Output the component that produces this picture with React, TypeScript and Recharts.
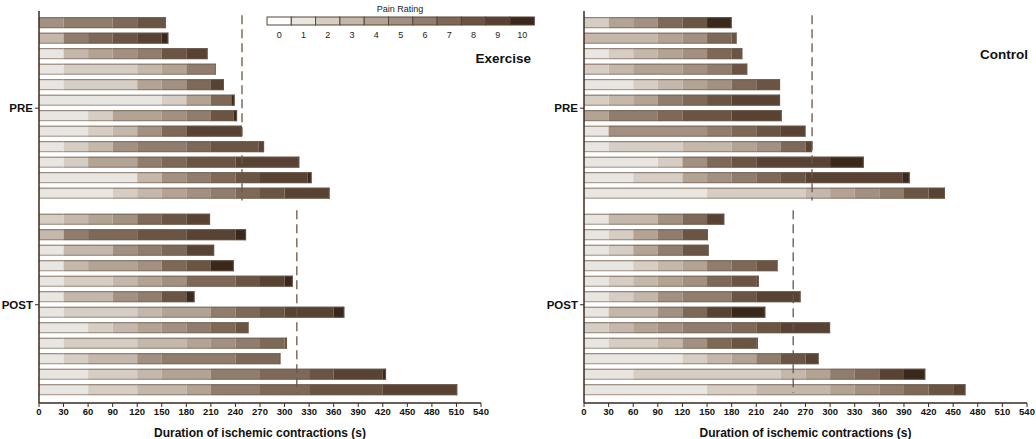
import React from "react";
import { BarChart, Bar, XAxis, YAxis, Cell, ReferenceLine } from "recharts";

// each subject: list of [seconds, pain rating] pieces, in order
type Piece = [number, number];

const exercisePre: Piece[][] = [
  [[30, 5], [60, 6], [30, 7], [35, 8]],
  [[30, 3], [30, 6], [30, 7], [30, 8], [30, 9], [8, 10]],
  [[30, 1], [30, 3], [30, 4], [30, 5], [30, 6], [30, 8], [26, 9]],
  [[30, 1], [90, 2], [30, 3], [30, 4], [36, 6]],
  [[30, 1], [90, 2], [30, 4], [30, 5], [30, 7], [16, 9]],
  [[150, 1], [30, 2], [30, 4], [25, 7], [4, 10]],
  [[60, 1], [30, 2], [60, 4], [30, 5], [30, 6], [28, 8], [4, 10]],
  [[60, 1], [30, 2], [30, 3], [30, 5], [30, 7], [68, 9]],
  [[30, 1], [30, 2], [30, 3], [30, 5], [60, 6], [30, 7], [58, 8], [7, 9]],
  [[30, 1], [30, 2], [60, 4], [30, 6], [30, 7], [60, 8], [78, 9]],
  [[120, 1], [30, 3], [30, 5], [30, 6], [30, 7], [30, 8], [58, 9], [5, 10]],
  [[90, 1], [30, 2], [30, 3], [30, 4], [30, 5], [30, 6], [30, 7], [30, 8], [55, 9]],
];

const exercisePost: Piece[][] = [
  [[30, 2], [30, 3], [30, 4], [30, 5], [30, 7], [30, 8], [29, 9]],
  [[30, 3], [30, 6], [60, 7], [60, 8], [60, 9], [13, 10]],
  [[30, 1], [60, 3], [30, 5], [30, 6], [30, 7], [34, 9]],
  [[30, 1], [30, 3], [60, 4], [30, 5], [30, 7], [30, 8], [28, 10]],
  [[30, 1], [60, 2], [30, 3], [30, 4], [30, 5], [60, 7], [30, 8], [30, 9], [10, 10]],
  [[30, 1], [60, 3], [30, 5], [30, 6], [30, 8], [10, 10]],
  [[30, 1], [90, 2], [30, 3], [60, 4], [30, 6], [30, 7], [30, 8], [60, 9], [13, 10]],
  [[60, 1], [30, 2], [30, 3], [30, 4], [30, 5], [30, 6], [30, 7], [16, 8]],
  [[30, 1], [90, 2], [60, 3], [30, 4], [30, 5], [30, 6], [30, 7], [3, 8]],
  [[30, 1], [30, 2], [60, 3], [30, 5], [90, 6], [55, 7]],
  [[60, 1], [60, 2], [30, 3], [60, 4], [60, 6], [60, 7], [30, 8], [60, 9], [4, 10]],
  [[60, 1], [60, 2], [60, 3], [30, 4], [60, 6], [60, 7], [90, 8], [91, 9]],
];

const controlPre: Piece[][] = [
  [[30, 2], [30, 4], [30, 5], [30, 7], [30, 8], [30, 10]],
  [[90, 3], [30, 4], [30, 5], [30, 7], [6, 8]],
  [[30, 1], [30, 2], [30, 3], [30, 4], [30, 5], [30, 7], [13, 8]],
  [[30, 2], [30, 3], [60, 4], [30, 5], [30, 6], [19, 8]],
  [[60, 1], [30, 2], [30, 3], [30, 4], [30, 5], [30, 7], [29, 8]],
  [[30, 2], [30, 3], [30, 4], [30, 6], [30, 7], [30, 8], [59, 9]],
  [[30, 4], [60, 6], [30, 7], [60, 8], [61, 9]],
  [[30, 1], [120, 5], [30, 6], [30, 7], [30, 8], [30, 9]],
  [[30, 1], [90, 2], [60, 3], [30, 4], [30, 5], [30, 7], [8, 9]],
  [[90, 1], [30, 2], [30, 5], [30, 7], [30, 8], [90, 9], [41, 10]],
  [[60, 1], [60, 2], [30, 4], [30, 5], [30, 6], [30, 7], [30, 8], [118, 9], [9, 10]],
  [[150, 1], [120, 2], [30, 3], [30, 4], [30, 5], [30, 6], [30, 8], [20, 9]],
];

const controlPost: Piece[][] = [
  [[30, 1], [60, 3], [30, 5], [30, 7], [21, 9]],
  [[30, 1], [30, 2], [30, 4], [30, 6], [31, 8]],
  [[30, 1], [30, 2], [30, 4], [30, 6], [32, 8]],
  [[60, 1], [30, 2], [30, 3], [30, 4], [30, 6], [30, 7], [26, 8]],
  [[30, 1], [30, 2], [30, 3], [30, 4], [30, 5], [30, 7], [30, 8], [3, 9]],
  [[30, 1], [30, 2], [30, 3], [30, 5], [60, 6], [30, 8], [54, 9]],
  [[30, 1], [60, 3], [30, 5], [30, 7], [30, 9], [41, 10]],
  [[30, 2], [30, 3], [30, 4], [30, 5], [60, 6], [30, 7], [30, 8], [60, 9]],
  [[30, 1], [60, 2], [30, 3], [30, 5], [30, 7], [30, 8], [2, 9]],
  [[120, 1], [30, 2], [30, 3], [30, 4], [30, 6], [30, 8], [16, 9]],
  [[60, 1], [180, 2], [30, 3], [30, 4], [30, 6], [30, 7], [30, 9], [26, 10]],
  [[150, 1], [60, 2], [90, 3], [30, 4], [30, 5], [30, 6], [30, 7], [30, 8], [15, 9]],
];

// dashed group lines [PRE, POST] in seconds
const exerciseMeans = [248, 315];
const controlMeans = [278, 255];

const timeTicks = [0, 30, 60, 90, 120, 150, 180, 210, 240, 270, 300, 330, 360, 390, 420, 450, 480, 510, 540];
const painLevels = [0, 1, 2, 3, 4, 5, 6, 7, 8, 9, 10];
const groupLabels = ["PRE", "POST"];

const PAIN_COLORS = [
  "#ffffff", "#e9e5e1", "#d6cdc5", "#c4b7ac", "#b3a395", "#a29082",
  "#907d6d", "#7e6959", "#6a5545", "#574233", "#3a281c",
];
const EDGE = "#6e5a4a";
const AXIS = "#3a2a1f";
const POST_OFFSET = 12.68;

type Row = { [k: string]: number };

function buildRows(pre: Piece[][], post: Piece[][]) {
  const rows: Row[] = [];
  [pre, post].forEach((group, g) =>
    group.forEach((pieces, i) => {
      const row: Row = { pos: g === 0 ? i : POST_OFFSET + i, n: pieces.length };
      pieces.forEach(([sec, rating], k) => {
        row[`s${k}`] = sec;
        row[`r${k}`] = rating;
      });
      rows.push(row);
    })
  );
  return rows;
}

function segShape(k: number, rows: Row[]) {
  return (p: any) => {
    const { x, y, width, height, fill, index } = p;
    if (!(width > 0)) return <g />;
    const last = rows[index] && rows[index].n - 1 === k;
    return (
      <g>
        <rect x={x} y={y} width={width} height={height} fill={fill} />
        <line x1={x} x2={x + width} y1={y + 0.5} y2={y + 0.5} stroke={EDGE} strokeOpacity={0.8} />
        <line x1={x} x2={x + width} y1={y + height - 0.5} y2={y + height - 0.5} stroke={EDGE} strokeOpacity={0.6} />
        {last && (
          <line x1={x + width - 0.5} x2={x + width - 0.5} y1={y} y2={y + height} stroke={EDGE} strokeOpacity={0.8} />
        )}
      </g>
    );
  };
}

type PanelProps = {
  pre: Piece[][];
  post: Piece[][];
  means: number[];
  left: number;
  width: number;
  rightMargin: number;
};

const Panel = ({ pre, post, means, left, width, rightMargin }: PanelProps) => {
  const rows = buildRows(pre, post);
  const maxPieces = Math.max(...rows.map((r) => r.n));
  const keys = Array.from({ length: maxPieces }, (_, k) => k);
  return (
    <div style={{ position: "absolute", left, top: 0 }}>
      <BarChart
        layout="vertical"
        width={width}
        height={439}
        data={rows}
        margin={{ top: 11, right: rightMargin, left: 0, bottom: 0 }}
      >
        <XAxis
          type="number"
          domain={[0, 540]}
          ticks={timeTicks}
          interval={0}
          height={36}
          tickSize={4}
          tickMargin={1}
          axisLine={{ stroke: AXIS, strokeWidth: 1.5 }}
          tickLine={{ stroke: AXIS }}
          tick={{ fill: "#111", fontSize: 9.5, fontWeight: 700 }}
          label={{
            value: "Duration of ischemic contractions (s)",
            position: "insideBottom",
            offset: 2,
            fill: "#111",
            fontSize: 12,
            fontWeight: 700,
          }}
        />
        <YAxis
          type="number"
          dataKey="pos"
          domain={[-0.77, 24.52]}
          width={39}
          ticks={[5.5, POST_OFFSET + 5.5]}
          interval={0}
          tickSize={4}
          tickMargin={2}
          tickFormatter={(v: number) => (v < 12 ? groupLabels[0] : groupLabels[1])}
          axisLine={{ stroke: AXIS, strokeWidth: 1.5 }}
          tickLine={{ stroke: AXIS }}
          tick={{ fill: "#111", fontSize: 11.5, fontWeight: 700 }}
        />
        {keys.map((k) => (
          <Bar
            key={k}
            dataKey={`s${k}`}
            stackId="a"
            barSize={11}
            isAnimationActive={false}
            shape={segShape(k, rows)}
          >
            {rows.map((r, j) => (
              <Cell key={j} fill={PAIN_COLORS[r[`r${k}`] ?? 0]} />
            ))}
          </Bar>
        ))}
        <ReferenceLine
          segment={[{ x: means[0], y: -0.5 }, { x: means[0], y: 11.45 }]}
          stroke="#6a5646"
          strokeWidth={1.3}
          strokeDasharray="9 5"
        />
        <ReferenceLine
          segment={[{ x: means[1], y: POST_OFFSET - 0.6 }, { x: means[1], y: POST_OFFSET + 11.2 }]}
          stroke="#6a5646"
          strokeWidth={1.3}
          strokeDasharray="9 5"
        />
      </BarChart>
    </div>
  );
};

const PainLegend = () => {
  const x0 = 267;
  const w = 24.3;
  return (
    <svg style={{ position: "absolute", left: 0, top: 0 }} width={545} height={45}>
      <text x={400} y={12} textAnchor="middle" fontSize={9} fill="#222">
        Pain Rating
      </text>
      {painLevels.map((p, i) => (
        <g key={p}>
          <rect
            x={x0 + i * w}
            y={17}
            width={w}
            height={8}
            fill={PAIN_COLORS[p]}
            stroke="#5a4535"
            strokeWidth={1}
          />
          <text x={x0 + i * w + w / 2} y={38} textAnchor="middle" fontSize={9} fill="#222">
            {p}
          </text>
        </g>
      ))}
    </svg>
  );
};

export default function App() {
  return (
    <div
      style={{
        position: "absolute",
        left: 0,
        top: 0,
        width: 1036,
        height: 439,
        background: "#fff",
        fontFamily: "'Liberation Sans', Arial, sans-serif",
      }}
    >
      <Panel pre={exercisePre} post={exercisePost} means={exerciseMeans} left={0} width={540} rightMargin={59} />
      <Panel pre={controlPre} post={controlPost} means={controlMeans} left={545} width={491} rightMargin={9} />
      <PainLegend />
      <div
        style={{
          position: "absolute",
          right: 1036 - 531,
          top: 50.5,
          fontSize: 13.5,
          fontWeight: 700,
          color: "#111",
        }}
      >
        Exercise
      </div>
      <div
        style={{
          position: "absolute",
          right: 1036 - 1028,
          top: 47,
          fontSize: 13.5,
          fontWeight: 700,
          color: "#111",
        }}
      >
        Control
      </div>
    </div>
  );
}
